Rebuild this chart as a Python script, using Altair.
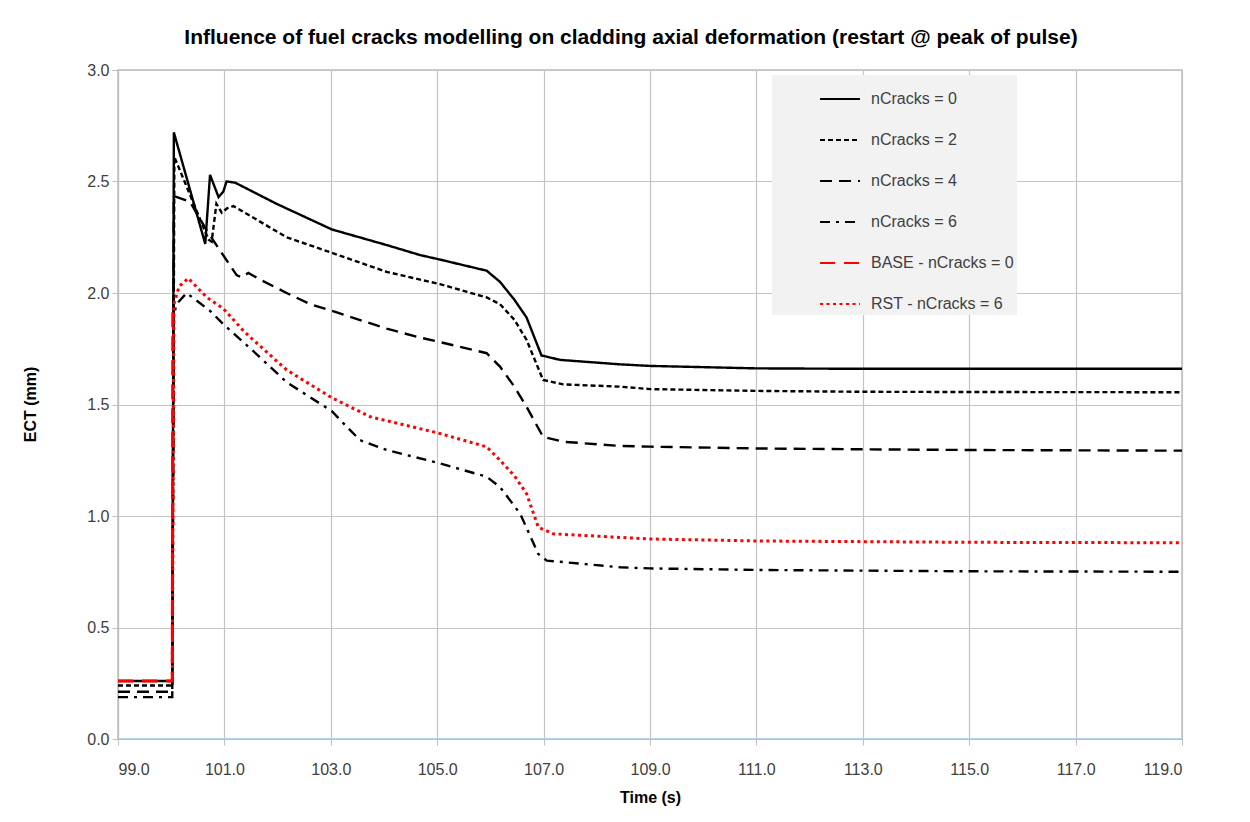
import altair as alt
import pandas as pd

series_names = ["nCracks = 0", "nCracks = 2", "nCracks = 4", "nCracks = 6",
                "BASE - nCracks = 0", "RST - nCracks = 6"]

t0 = [99.0, 100.02, 100.05, 100.64, 100.73, 100.89, 100.98, 101.04, 101.2, 101.98, 103.02, 104.05,
      104.68, 105.05, 105.93, 106.18, 106.45, 106.68, 106.96, 107.31, 108.44, 109.0, 111.0, 113.0, 115.0, 119.0]
v0 = [0.26, 0.26, 2.72, 2.22, 2.53, 2.43, 2.455, 2.50, 2.495, 2.40, 2.285, 2.215,
      2.17, 2.15, 2.10, 2.05, 1.97, 1.89, 1.72, 1.70, 1.68, 1.673, 1.662, 1.66, 1.66, 1.66]

t2 = [99.0, 100.02, 100.06, 100.70, 100.76, 100.85, 100.95, 101.05, 101.17, 102.17, 103.02, 104.05,
      104.68, 105.05, 105.93, 106.18, 106.45, 106.68, 106.99, 107.37, 108.44, 109.0, 111.0, 113.0, 115.0, 119.0]
v2 = [0.24, 0.24, 2.61, 2.24, 2.23, 2.40, 2.36, 2.38, 2.39, 2.25, 2.18, 2.095,
      2.06, 2.04, 1.98, 1.95, 1.88, 1.79, 1.61, 1.59, 1.58, 1.569, 1.561, 1.557, 1.556, 1.555]

t4 = [99.0, 100.02, 100.05, 100.35, 100.67, 100.92, 101.23, 101.32, 101.45, 101.67, 102.17, 102.61,
      103.02, 104.05, 104.68, 105.05, 105.93, 106.18, 106.45, 106.68, 106.99, 107.37, 108.44, 109.0,
      111.0, 113.0, 115.0, 119.0]
v4 = [0.212, 0.212, 2.435, 2.41, 2.28, 2.19, 2.08, 2.07, 2.09, 2.06, 2.0, 1.95,
      1.92, 1.84, 1.80, 1.78, 1.73, 1.67, 1.58, 1.49, 1.355, 1.333, 1.314, 1.311,
      1.303, 1.299, 1.296, 1.293]

t6 = [99.0, 100.02, 100.05, 100.10, 100.29, 100.73, 100.98, 101.54, 102.17, 103.02, 103.30, 103.55,
      104.05, 105.05, 105.93, 106.18, 106.56, 106.90, 107.06, 108.44, 109.0, 111.0, 113.0, 115.0, 119.0]
v6 = [0.188, 0.188, 1.90, 1.95, 2.0, 1.92, 1.86, 1.74, 1.60, 1.47, 1.40, 1.34,
      1.296, 1.236, 1.176, 1.13, 1.01, 0.83, 0.80, 0.77, 0.765, 0.758, 0.755, 0.752, 0.750]

t_base = [99.0, 100.02, 100.03]
v_base = [0.26, 0.26, 1.95]

t_rst = [100.02, 100.05, 100.15, 100.32, 100.67, 100.98, 101.36, 101.54, 102.17, 103.02, 103.74, 105.05,
         105.93, 106.18, 106.45, 106.68, 106.90, 107.18, 108.44, 109.0, 111.0, 113.0, 115.0, 119.0]
v_rst = [0.26, 1.95, 2.03, 2.066, 1.98, 1.93, 1.83, 1.79, 1.655, 1.53, 1.445, 1.37,
         1.31, 1.25, 1.18, 1.10, 0.95, 0.92, 0.904, 0.897, 0.888, 0.885, 0.882, 0.880]

x_ticks = [99.0, 101.0, 103.0, 105.0, 107.0, 109.0, 111.0, 113.0, 115.0, 117.0, 119.0]
y_ticks = [0.0, 0.5, 1.0, 1.5, 2.0, 2.5, 3.0]

colors = ["#000000", "#000000", "#000000", "#000000", "#ff0000", "#ff0000"]
dashes = [[1, 0], [5, 3], [12, 7], [10, 6, 3, 6], [15, 9], [3, 3.5]]

all_series = [(t0, v0), (t2, v2), (t4, v4), (t6, v6), (t_base, v_base), (t_rst, v_rst)]
rows = []
for name, (ts, vs) in zip(series_names, all_series):
    for t, v in zip(ts, vs):
        rows.append({"series": name, "time": t, "ect": v})
df = pd.DataFrame(rows)

FONT = "Liberation Sans"

legend = alt.Legend(title=None, orient="none", legendX=654, legendY=5,
                    fillColor="#f2f2f2", padding=3, symbolType="stroke",
                    symbolSize=1600, symbolStrokeWidth=2, symbolOffset=44,
                    labelOffset=10, labelFont=FONT, labelFontSize=16,
                    labelColor="#404040", rowPadding=12)

base = alt.Chart(df).encode(
    x=alt.X("time:Q", scale=alt.Scale(domain=[99, 119], nice=False, zero=False),
            axis=alt.Axis(values=x_ticks, format=".1f", title="Time (s)", labelPadding=16,
                          titleX=532, titleY=58, titleBaseline="middle")),
    y=alt.Y("ect:Q", scale=alt.Scale(domain=[0, 3], nice=False),
            axis=alt.Axis(values=y_ticks, format=".1f", title="ECT (mm)", labelPadding=3,
                          titleX=-88, titleY=334, titleAngle=270,
                          titleAlign="center", titleBaseline="middle")),
    color=alt.Color("series:N", scale=alt.Scale(domain=series_names, range=colors), legend=legend),
    strokeDash=alt.StrokeDash("series:N", scale=alt.Scale(domain=series_names, range=dashes), legend=legend),
)

black = base.transform_filter(
    alt.FieldOneOfPredicate(field="series", oneOf=series_names[:4])
).mark_line(strokeWidth=2.4, interpolate="linear")
red = base.transform_filter(
    alt.FieldOneOfPredicate(field="series", oneOf=series_names[4:])
).mark_line(strokeWidth=3, interpolate="linear")

chart = alt.layer(black, red).properties(
    width=1064, height=669,
    padding={"left": 110, "top": 62, "right": 20, "bottom": 75},
    autosize=alt.AutoSizeParams(type="none"),
    title=alt.TitleParams(
        "Influence of fuel cracks modelling on cladding axial deformation (restart @ peak of pulse)",
        font=FONT, fontSize=21, fontWeight="bold", color="#000000",
        anchor="middle", dx=-19, offset=14),
).configure_view(
    stroke="#9dc3e6", strokeWidth=1.5
).configure_axis(
    labelFont=FONT, labelFontSize=16, labelColor="#404040",
    titleFont=FONT, titleFontSize=16, titleFontWeight="bold", titleColor="#000000",
    gridColor="#c4c4c4", gridWidth=1.2, domainColor="#bfbfbf", domainWidth=1.2,
    tickColor="#bfbfbf", tickSize=6
)

chart.save("out.html", embed_options={"renderer": "svg", "actions": False})
